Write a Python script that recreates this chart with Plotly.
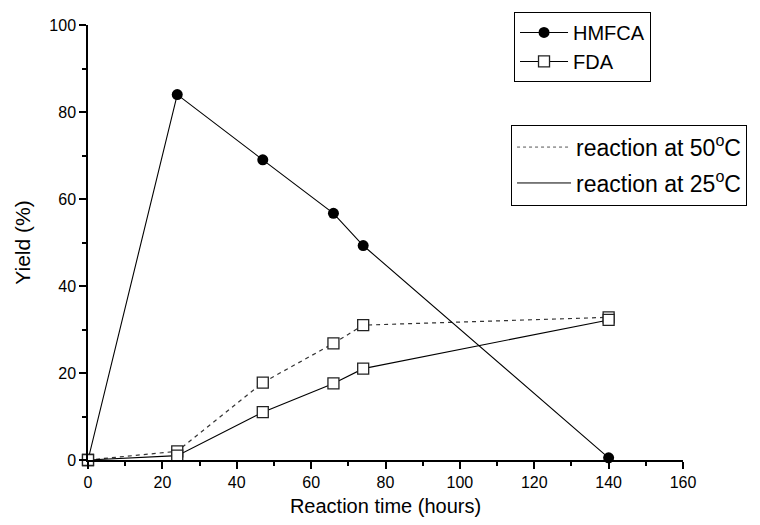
import plotly.graph_objects as go

time_h = [0, 24, 47, 66, 74, 140]
hmfca = [0, 84, 69, 56.7, 49.3, 0.5]
fda_25 = [0, 1.0, 11.0, 17.6, 21.0, 32.2]
fda_50 = [0, 2.0, 17.8, 26.8, 31.0, 32.8]

x_ticks = [0, 20, 40, 60, 80, 100, 120, 140, 160]
y_ticks = [0, 20, 40, 60, 80, 100]

FONT = "Arial, 'Liberation Sans', sans-serif"

fig = go.Figure()

fig.add_trace(go.Scatter(
    x=time_h, y=fda_50, mode="lines+markers", showlegend=False,
    line=dict(color="#333333", width=1.2, dash="4px,4px"),
    marker=dict(symbol="square", size=11, color="white",
                line=dict(color="#222222", width=1.3)),
    cliponaxis=False,
))
fig.add_trace(go.Scatter(
    x=time_h, y=hmfca, mode="lines+markers", name="HMFCA",
    line=dict(color="black", width=1.1),
    marker=dict(symbol="circle", size=11, color="black"),
    cliponaxis=False, legend="legend",
))
fig.add_trace(go.Scatter(
    x=time_h, y=fda_25, mode="lines+markers", name="FDA",
    line=dict(color="black", width=1.1),
    marker=dict(symbol="square", size=11, color="white",
                line=dict(color="#222222", width=1.3)),
    cliponaxis=False, legend="legend",
))

# legend-only entries for the line styles
fig.add_trace(go.Scatter(
    x=[None], y=[None], mode="lines", name="reaction at 50<sup>o</sup>C",
    line=dict(color="#555555", width=1, dash="dot"), legend="legend2",
    legendgroup="g50",
))
fig.add_trace(go.Scatter(
    x=[None], y=[None], mode="lines", name="reaction at 25<sup>o</sup>C",
    line=dict(color="black", width=1), legend="legend2",
    legendgroup="g25",
))

axis_common = dict(
    showline=True, linecolor="black", linewidth=1.5,
    ticks="outside", ticklen=7, tickwidth=1.5, tickcolor="black",
    showgrid=False, zeroline=False,
    tickfont=dict(family=FONT, size=16, color="black"),
    minor=dict(ticks="outside", ticklen=4, tickwidth=1.5, tickcolor="black", showgrid=False),
)

fig.update_xaxes(
    range=[0, 160], tickvals=x_ticks, minor_dtick=10,
    title=dict(text="Reaction time (hours)", font=dict(family=FONT, size=20, color="black"), standoff=9),
    **axis_common,
)
fig.update_yaxes(
    range=[0, 100], tickvals=y_ticks, minor_dtick=10,
    title=dict(text="Yield (%)", font=dict(family=FONT, size=21, color="black"), standoff=13),
    **axis_common,
)

fig.update_layout(
    width=760, height=525,
    margin=dict(l=88, r=77, t=23, b=65),
    plot_bgcolor="white", paper_bgcolor="white",
    font=dict(family=FONT, color="black"),
    legend=dict(
        x=0.716, y=1.030, xanchor="left", yanchor="top",
        bordercolor="black", borderwidth=1, bgcolor="white",
        font=dict(family=FONT, size=20, color="black"),
        tracegroupgap=0, itemwidth=48,
    ),
    legend2=dict(
        x=0.711, y=0.771, xanchor="left", yanchor="top",
        bordercolor="black", borderwidth=1, bgcolor="white",
        font=dict(family=FONT, size=23, color="black"),
        tracegroupgap=3, itemwidth=54,
    ),
)

fig.write_html("out.html")
